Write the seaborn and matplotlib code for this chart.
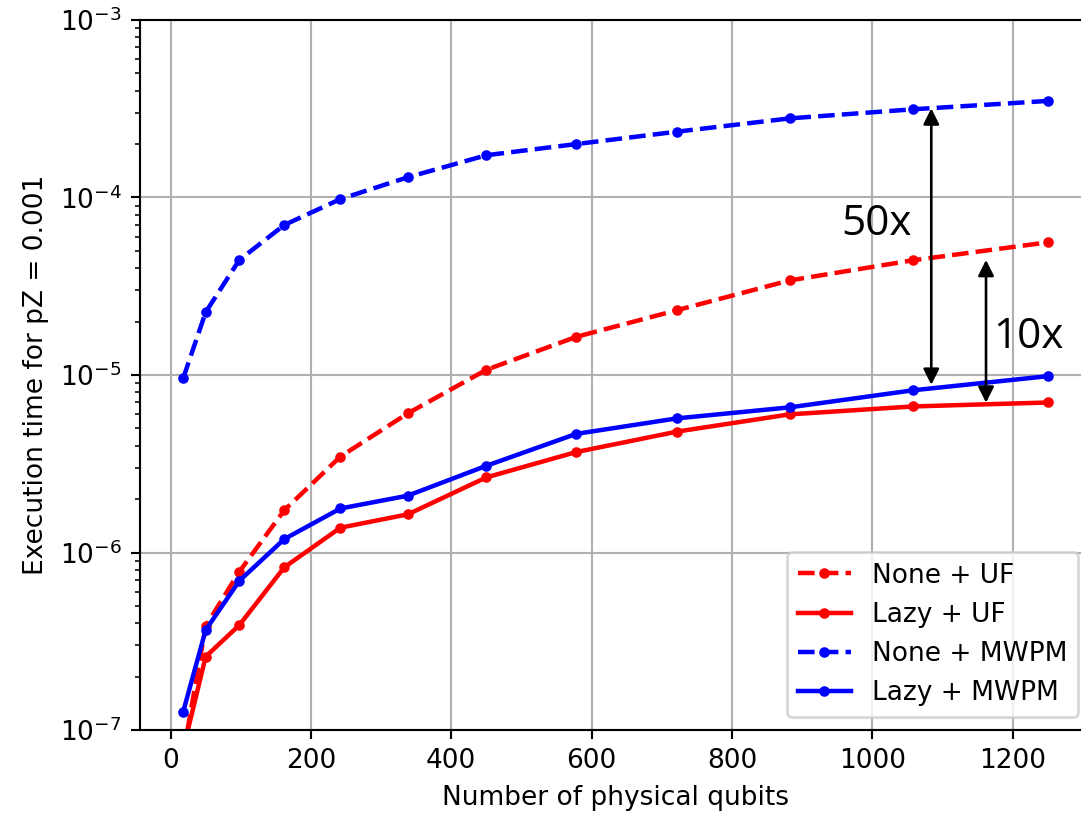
import matplotlib
matplotlib.use("Agg")
import matplotlib.pyplot as plt
import seaborn as sns

# Number of physical qubits (2*d^2 for code distances d = 3..25)
qubits = [18, 50, 98, 162, 242, 338, 450, 578, 722, 882, 1058, 1250]

# Execution time per decoding round at pZ = 0.001
none_uf = [7.3e-8, 3.85e-7, 7.8e-7, 1.73e-6, 3.47e-6, 6.08e-6, 1.07e-5,
           1.64e-5, 2.32e-5, 3.41e-5, 4.43e-5, 5.59e-5]
lazy_uf = [7.8e-8, 2.59e-7, 3.9e-7, 8.25e-7, 1.38e-6, 1.64e-6, 2.65e-6,
           3.68e-6, 4.8e-6, 6.0e-6, 6.65e-6, 7.0e-6]
none_mwpm = [9.6e-6, 2.26e-5, 4.45e-5, 7.0e-5, 9.8e-5, 1.30e-4, 1.73e-4,
             2.0e-4, 2.35e-4, 2.79e-4, 3.14e-4, 3.50e-4]
lazy_mwpm = [1.27e-7, 3.66e-7, 6.93e-7, 1.19e-6, 1.77e-6, 2.09e-6, 3.08e-6,
             4.66e-6, 5.7e-6, 6.57e-6, 8.2e-6, 9.85e-6]

series_labels = ["None + UF", "Lazy + UF", "None + MWPM", "Lazy + MWPM"]

# Speed-up brackets: (x position, upper value, lower value, label)
speedup_50x = (1084, 3.18e-4, 8.8e-6, "50x")
speedup_10x = (1162, 4.45e-5, 6.98e-6, "10x")

DPI = 190
fig = plt.figure(figsize=(1081 / DPI, 814 / DPI), dpi=DPI)
ax = fig.add_axes([140 / 1081, 84 / 814, 951 / 1081, 710 / 814])

styles = [
    (none_uf, "red", "--"),
    (lazy_uf, "red", "-"),
    (none_mwpm, "blue", "--"),
    (lazy_mwpm, "blue", "-"),
]
for (vals, color, ls), label in zip(styles, series_labels):
    sns.lineplot(x=qubits, y=vals, ax=ax, color=color, linestyle=ls,
                 marker=".", markersize=6, markeredgecolor=color,
                 markeredgewidth=1, linewidth=1.7, label=label, sort=False)

ax.set_yscale("log")
ax.set_ylim(1e-7, 1e-3)
ax.set_xlim(-43.6, 1311.6)
ax.grid(True, which="major", color="#b0b0b0", linewidth=0.8)
ax.set_axisbelow(True)

ax.set_xlabel("Number of physical qubits")
ax.set_ylabel("Execution time for pZ = 0.001")

ax.legend(loc="lower right")

for xpos, top, bottom, text in (speedup_50x, speedup_10x):
    ax.annotate("", xy=(xpos, top), xytext=(xpos, bottom),
                arrowprops=dict(arrowstyle="<|-|>", color="black", lw=1.0,
                                mutation_scale=12.5, shrinkA=0, shrinkB=0))

ax.text(1006, 6.15e-5, speedup_50x[3], fontsize=16, family="Open Sans",
        ha="center", va="baseline")
ax.text(1223, 1.42e-5, speedup_10x[3], fontsize=16, family="Open Sans",
        ha="center", va="baseline")

fig.savefig("out.png", dpi=DPI)
